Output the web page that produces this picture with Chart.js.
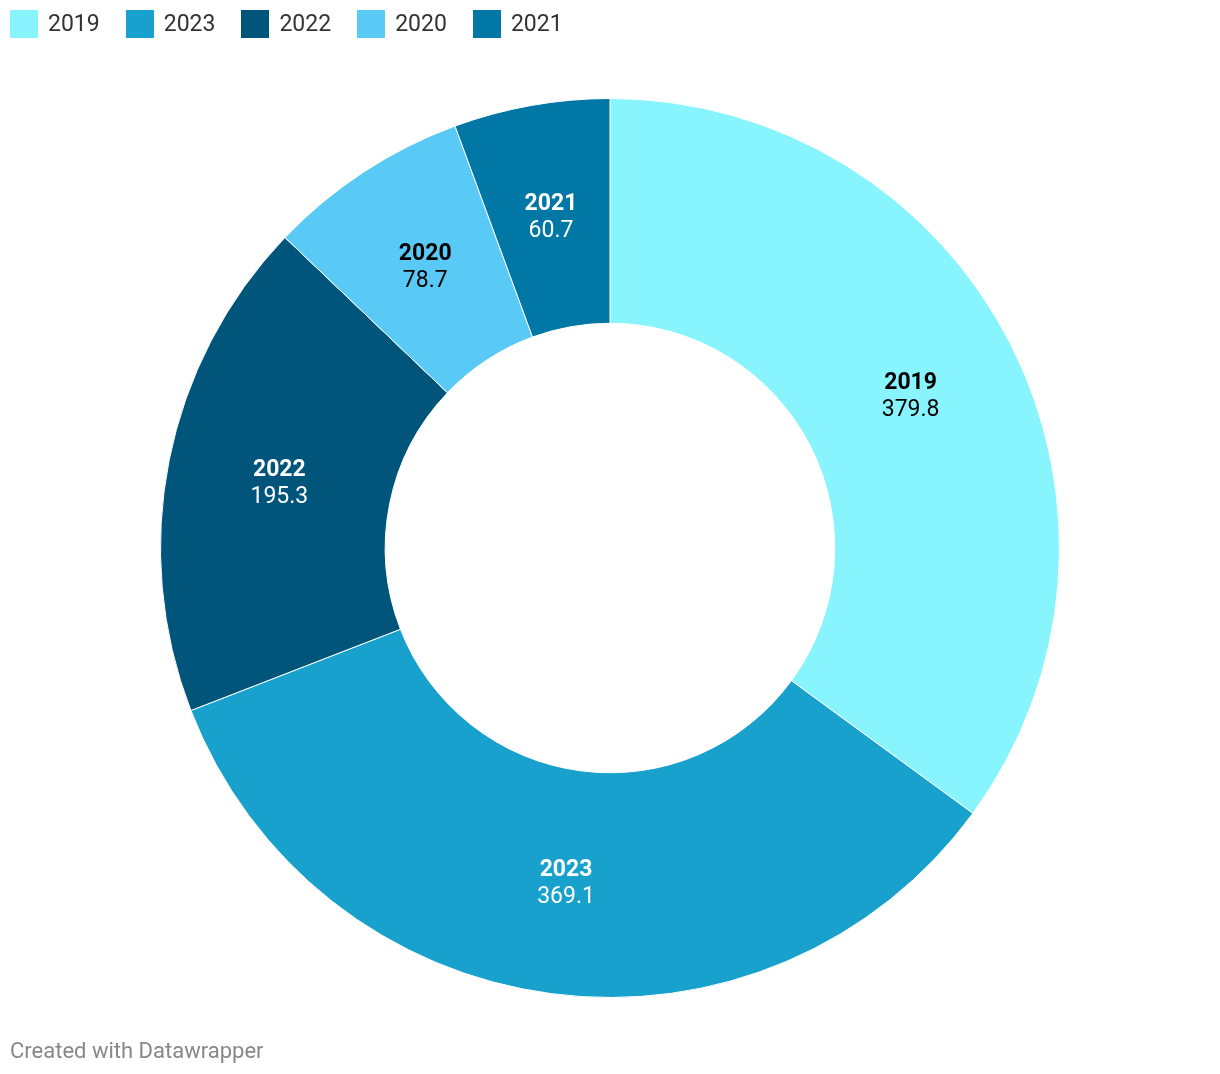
<!DOCTYPE html>
<html>
<head>
<meta charset="utf-8">
<script src="https://cdn.jsdelivr.net/npm/chart.js@4/dist/chart.umd.min.js"></script>
<style>
  html, body { margin: 0; padding: 0; background: #fff; }
  #wrap { position: relative; width: 1220px; height: 1074px; font-family: Roboto, sans-serif; }
  #chart { position: absolute; left: 0; top: 0; }
  #legend { position: absolute; left: 10px; top: 10px; display: flex; font-size: 23px; color: #333; }
  .item { display: flex; align-items: center; margin-right: 26px; height: 28px; line-height: 28px; }
  .sw { width: 28px; height: 28px; margin-right: 10px; }
  #footer { position: absolute; left: 10px; top: 1040px; font-size: 22px; line-height: 22px; color: #888; }
</style>
</head>
<body>
<div id="wrap">
  <canvas id="chart" width="1220" height="1074"></canvas>
  <div id="legend"></div>
  <div id="footer">Created with Datawrapper</div>
</div>
<script>
const categories = ["2019", "2023", "2022", "2020", "2021"];
const values = [379.8, 369.1, 195.3, 78.7, 60.7];
const colors = ["#88F4FE", "#19A1CD", "#01547A", "#59C9F6", "#0077A4"];
const labelColors = ["#000000", "#FFFFFF", "#FFFFFF", "#000000", "#FFFFFF"];

const legend = document.getElementById('legend');
categories.forEach((c, i) => {
  const it = document.createElement('div');
  it.className = 'item';
  it.innerHTML = '<div class="sw" style="background:' + colors[i] + '"></div><span>' + c + '</span>';
  legend.appendChild(it);
});

const labelPlugin = {
  id: 'arcLabels',
  afterDatasetsDraw(chart) {
    const ctx = chart.ctx;
    const meta = chart.getDatasetMeta(0);
    meta.data.forEach((arc, i) => {
      const p = arc.getCenterPoint();
      ctx.save();
      ctx.textAlign = 'center';
      ctx.textBaseline = 'alphabetic';
      ctx.fillStyle = labelColors[i];
      ctx.font = 'bold 23px Roboto';
      ctx.fillText(categories[i], p.x, p.y - 6);
      ctx.font = '23px Roboto';
      ctx.fillText(values[i].toFixed(1), p.x, p.y + 21);
      ctx.restore();
    });
  }
};

new Chart(document.getElementById('chart'), {
  type: 'doughnut',
  data: {
    labels: categories,
    datasets: [{
      data: values,
      backgroundColor: colors,
      borderColor: '#FFFFFF',
      borderWidth: 1
    }]
  },
  options: {
    responsive: false,
    animation: false,
    cutout: '50%',
    layout: { padding: { top: 98, bottom: 76, left: 0, right: 0 } },
    plugins: {
      legend: { display: false },
      tooltip: { enabled: false }
    }
  },
  plugins: [labelPlugin]
});
</script>
</body>
</html>
